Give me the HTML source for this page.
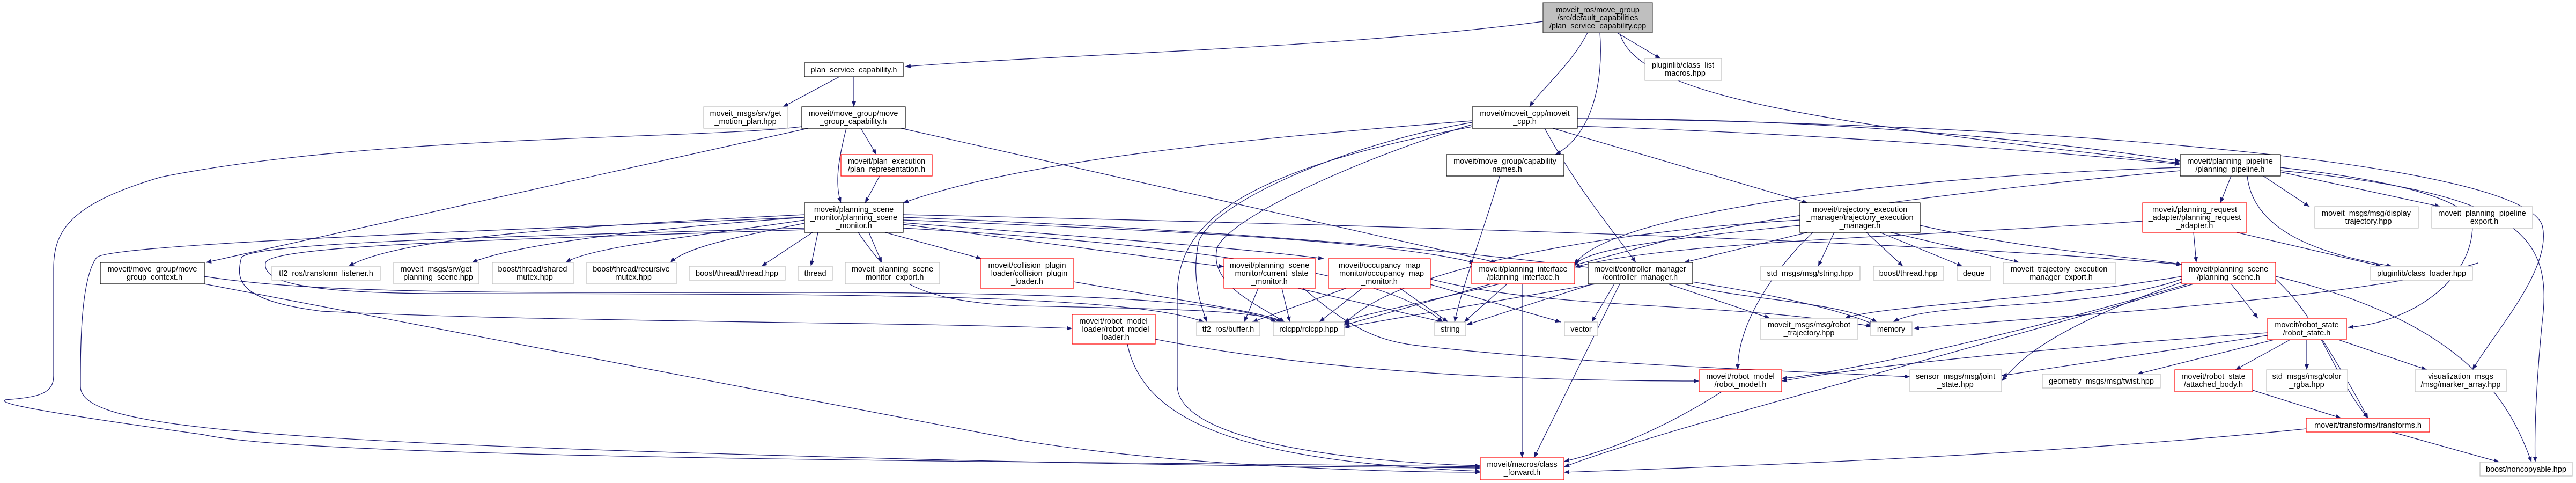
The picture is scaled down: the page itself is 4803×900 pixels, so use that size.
<!DOCTYPE html>
<html><head><meta charset="utf-8"><style>
html,body{margin:0;padding:0;background:#fff;width:4803px;height:900px;overflow:hidden}
svg text{font-family:"Liberation Sans",sans-serif;font-size:14.5px;fill:#000;text-anchor:middle}
.e{fill:none;stroke:#191970;stroke-width:1.2;marker-end:url(#a)}
.nb{fill:#fff;stroke:#000;stroke-width:1.2}
.ng{fill:#fff;stroke:#bfbfbf;stroke-width:1.2}
.nr{fill:#fff;stroke:#ff0000;stroke-width:1.2}
</style></head><body>
<svg width="4803" height="900" viewBox="0 0 4803 900" xmlns="http://www.w3.org/2000/svg">
<defs><marker id="a" markerWidth="10" markerHeight="8" refX="10" refY="4" orient="auto" markerUnits="userSpaceOnUse"><path d="M0,0 L10,4 L0,8 z" fill="#191970"/></marker></defs>
<g>
<path class="e" d="M2877,40 C2500,90 2000,100 1688,124"/>
<path class="e" d="M2960,61 C2930,120 2870,170 2852,199"/>
<path class="e" d="M2983,61 C2990,150 2970,250 2900,288"/>
<path class="e" d="M3015,61 L3096,109"/>
<path class="e" d="M3020,61 C3050,180 3400,230 4065,304"/>
<path class="e" d="M1565,143 L1460,199"/>
<path class="e" d="M1592,143 L1592,199"/>
<path class="e" d="M1578,239 C1565,290 1555,340 1568,378"/>
<path class="e" d="M1605,239 L1634,288"/>
<path class="e" d="M1507,239 L384,489"/>
<path class="e" d="M1495,236 C1300,260 700,250 300,330 C130,380 100,430 100,500 L100,700 C100,735 70,740 10,745 C0,750 20,760 380,810 C600,860 2200,860 2760,870"/>
<path class="e" d="M1680,239 L2790,489"/>
<path class="e" d="M1640,328 L1613,378"/>
<path class="e" d="M1500,400 C1100,420 750,440 650,496"/>
<path class="e" d="M1500,405 C1150,430 950,460 880,489"/>
<path class="e" d="M1500,410 C1300,440 1100,460 1055,489"/>
<path class="e" d="M1505,415 C1380,440 1280,460 1250,489"/>
<path class="e" d="M1515,433 L1420,496"/>
<path class="e" d="M1525,433 L1512,496"/>
<path class="e" d="M1620,433 L1644,489"/>
<path class="e" d="M1650,433 L1830,482"/>
<path class="e" d="M1684,418 L2282,497"/>
<path class="e" d="M1684,415 C2000,440 2300,460 2468,482"/>
<path class="e" d="M1684,410 C2200,430 2600,450 2750,490"/>
<path class="e" d="M1684,400 C2600,420 3600,450 4068,493"/>
<path class="e" d="M1684,425 C2300,460 2600,520 2690,600"/>
<path class="e" d="M1684,405 C2600,440 3300,520 3495,605"/>
<path class="e" d="M1500,425 C1000,440 470,450 450,480 C440,520 440,560 600,580 C1000,600 1700,600 1999,612"/>
<path class="e" d="M1500,428 C1000,445 500,455 495,490 C490,520 540,545 800,547 C1500,548 2100,545 2245,600"/>
<path class="e" d="M1600,433 C1660,520 1700,560 1900,570 C2200,575 2350,580 2390,600"/>
<path class="e" d="M1500,405 C900,430 200,455 180,480 C150,520 150,650 150,720 C150,790 400,820 1500,850 C2200,870 2600,870 2760,872"/>
<path class="e" d="M381,515 C600,550 1000,545 1500,545 C2000,545 2300,560 2380,600"/>
<path class="e" d="M381,529 L1900,820 C2200,870 2600,880 2760,880"/>
<path class="e" d="M2002,525 C2200,560 2350,580 2395,600"/>
<path class="e" d="M2346,537 L2320,600"/>
<path class="e" d="M2390,537 L2405,600"/>
<path class="e" d="M2420,537 L2690,600"/>
<path class="e" d="M2430,537 C2550,640 2600,640 2700,650 C3000,680 3300,690 3561,702"/>
<path class="e" d="M2510,537 L2335,600"/>
<path class="e" d="M2540,537 L2460,600"/>
<path class="e" d="M2610,537 L2700,600"/>
<path class="e" d="M2667,530 L2910,600"/>
<path class="e" d="M2667,520 C2900,580 3200,560 3490,608"/>
<path class="e" d="M2780,529 L2506,606"/>
<path class="e" d="M2810,529 L2730,600"/>
<path class="e" d="M2838,529 L2838,853"/>
<path class="e" d="M2975,529 L2506,610"/>
<path class="e" d="M2970,529 L2735,605"/>
<path class="e" d="M3010,529 L2968,600"/>
<path class="e" d="M3020,529 L2860,853"/>
<path class="e" d="M3110,529 L3300,593"/>
<path class="e" d="M3140,529 C3250,560 3420,560 3500,600"/>
<path class="e" d="M2745,225 C2300,260 1900,300 1684,378"/>
<path class="e" d="M2941,221 C3400,220 3800,260 4065,300"/>
<path class="e" d="M2941,235 C3400,250 3800,280 4065,306"/>
<path class="e" d="M2895,239 L3370,378"/>
<path class="e" d="M2880,239 C2940,350 3000,420 3050,489"/>
<path class="e" d="M2745,228 C2500,270 2260,380 2235,450 C2220,520 2240,570 2250,600"/>
<path class="e" d="M2745,232 C2550,290 2300,400 2270,460 C2250,530 2350,570 2395,600"/>
<path class="e" d="M2745,236 C2300,320 2195,420 2195,550 L2195,720 C2200,820 2500,860 2760,868"/>
<path class="e" d="M2941,221 C3800,230 4700,300 4740,420 C4760,500 4650,620 4610,689"/>
<path class="e" d="M2796,328 C2770,420 2730,520 2712,600"/>
<path class="e" d="M3420,433 L3390,496"/>
<path class="e" d="M3480,433 L3548,496"/>
<path class="e" d="M3505,433 L3659,496"/>
<path class="e" d="M3525,433 L3765,489"/>
<path class="e" d="M3580,420 C3800,470 4000,480 4068,493"/>
<path class="e" d="M3370,433 L3140,489"/>
<path class="e" d="M3356,410 C3000,430 2600,500 2506,605"/>
<path class="e" d="M3380,433 C3310,500 3240,600 3240,689"/>
<path class="e" d="M3356,420 C3050,450 2950,470 2936,495"/>
<path class="e" d="M4068,515 C3800,560 3500,570 3440,593"/>
<path class="e" d="M4068,520 C3900,580 3600,560 3530,600"/>
<path class="e" d="M4160,529 L4210,593"/>
<path class="e" d="M4080,529 C3700,640 3400,700 3322,705"/>
<path class="e" d="M4090,529 C3500,700 3100,800 2916,870"/>
<path class="e" d="M4243,515 C4600,600 4680,750 4720,861"/>
<path class="e" d="M4243,520 C4330,600 4350,700 4415,779"/>
<path class="e" d="M4070,525 C3800,620 3760,680 3732,710"/>
<path class="e" d="M4228,620 C3800,650 3500,680 3322,710"/>
<path class="e" d="M4228,625 C4000,660 3800,690 3732,700"/>
<path class="e" d="M4240,633 L3985,697"/>
<path class="e" d="M4270,633 L4168,689"/>
<path class="e" d="M4301,633 L4301,689"/>
<path class="e" d="M4360,633 L4525,689"/>
<path class="e" d="M4330,633 C4360,680 4395,740 4415,779"/>
<path class="e" d="M4620,490 C4400,560 3800,590 3568,612"/>
<path class="e" d="M4200,727 L4365,779"/>
<path class="e" d="M3210,730 C3100,800 3000,840 2916,860"/>
<path class="e" d="M4460,805 L4660,861"/>
<path class="e" d="M4300,799 C3800,850 3200,870 2916,880"/>
<path class="e" d="M2102,641 C2130,780 2300,860 2760,878"/>
<path class="e" d="M2154,632 C2500,700 2900,710 3168,710"/>
<path class="e" d="M4160,328 L4140,378"/>
<path class="e" d="M4220,328 L4306,385"/>
<path class="e" d="M4250,320 L4550,385"/>
<path class="e" d="M4190,328 C4200,420 4300,470 4460,496"/>
<path class="e" d="M4065,312 C3500,330 3000,400 2936,492"/>
<path class="e" d="M4065,318 C3600,360 3200,420 3100,450 C2700,560 2550,580 2506,600"/>
<path class="e" d="M4252,312 C4500,340 4610,380 4610,420 C4610,520 4500,600 4378,610"/>
<path class="e" d="M4252,318 C4700,360 4760,440 4740,600 C4730,700 4725,800 4727,861"/>
<path class="e" d="M4090,433 L4095,489"/>
<path class="e" d="M4170,433 L4440,496"/>
<path class="e" d="M3995,412 C3600,440 3100,450 2936,498"/>
</g>
<g>
<rect x="2877" y="5" width="204" height="56" fill="#bfbfbf" stroke="#404040" stroke-width="1.2"/>
<text x="2979" y="23">moveit_ros/move_group</text><text x="2979" y="38">/src/default_capabilities</text><text x="2979" y="53">/plan_service_capability.cpp</text>
<rect class="nb" x="1500" y="117" width="184" height="26"/><text x="1592" y="135">plan_service_capability.h</text>
<rect class="ng" x="1312" y="199" width="157" height="40"/><text x="1390" y="216">moveit_msgs/srv/get</text><text x="1390" y="231">_motion_plan.hpp</text>
<rect class="nb" x="1495" y="199" width="193" height="40"/><text x="1591" y="216">moveit/move_group/move</text><text x="1591" y="231">_group_capability.h</text>
<rect class="nr" x="1568" y="288" width="170" height="40"/><text x="1653" y="305">moveit/plan_execution</text><text x="1653" y="320">/plan_representation.h</text>
<rect class="nb" x="1500" y="378" width="184" height="55"/><text x="1592" y="395">moveit/planning_scene</text><text x="1592" y="410">_monitor/planning_scene</text><text x="1592" y="425">_monitor.h</text>
<rect class="nb" x="2745" y="199" width="196" height="40"/><text x="2843" y="216">moveit/moveit_cpp/moveit</text><text x="2843" y="231">_cpp.h</text>
<rect class="nb" x="2697" y="288" width="219" height="40"/><text x="2806" y="305">moveit/move_group/capability</text><text x="2806" y="320">_names.h</text>
<rect class="ng" x="3067" y="109" width="143" height="41"/><text x="3138" y="126">pluginlib/class_list</text><text x="3138" y="141">_macros.hpp</text>
<rect class="nb" x="4065" y="288" width="187" height="40"/><text x="4158" y="305">moveit/planning_pipeline</text><text x="4158" y="320">/planning_pipeline.h</text>
<rect class="nb" x="3356" y="378" width="224" height="55"/><text x="3468" y="395">moveit/trajectory_execution</text><text x="3468" y="410">_manager/trajectory_execution</text><text x="3468" y="425">_manager.h</text>
<rect class="nr" x="3995" y="378" width="194" height="55"/><text x="4092" y="395">moveit/planning_request</text><text x="4092" y="410">_adapter/planning_request</text><text x="4092" y="425">_adapter.h</text>
<rect class="ng" x="4316" y="385" width="193" height="40"/><text x="4412" y="402">moveit_msgs/msg/display</text><text x="4412" y="417">_trajectory.hpp</text>
<rect class="ng" x="4534" y="385" width="188" height="40"/><text x="4628" y="402">moveit_planning_pipeline</text><text x="4628" y="417">_export.h</text>
<rect class="nb" x="187" y="489" width="194" height="40"/><text x="284" y="506">moveit/move_group/move</text><text x="284" y="521">_group_context.h</text>
<rect class="ng" x="507" y="496" width="202" height="26"/><text x="608" y="514">tf2_ros/transform_listener.h</text>
<rect class="ng" x="734" y="489" width="159" height="40"/><text x="813" y="506">moveit_msgs/srv/get</text><text x="813" y="521">_planning_scene.hpp</text>
<rect class="ng" x="918" y="489" width="151" height="40"/><text x="993" y="506">boost/thread/shared</text><text x="993" y="521">_mutex.hpp</text>
<rect class="ng" x="1094" y="489" width="167" height="40"/><text x="1177" y="506">boost/thread/recursive</text><text x="1177" y="521">_mutex.hpp</text>
<rect class="ng" x="1285" y="496" width="179" height="26"/><text x="1374" y="514">boost/thread/thread.hpp</text>
<rect class="ng" x="1488" y="496" width="64" height="26"/><text x="1520" y="514">thread</text>
<rect class="ng" x="1576" y="489" width="176" height="40"/><text x="1664" y="506">moveit_planning_scene</text><text x="1664" y="521">_monitor_export.h</text>
<rect class="nr" x="1828" y="482" width="174" height="55"/><text x="1915" y="499">moveit/collision_plugin</text><text x="1915" y="514">_loader/collision_plugin</text><text x="1915" y="529">_loader.h</text>
<rect class="nr" x="2282" y="482" width="171" height="55"/><text x="2367" y="499">moveit/planning_scene</text><text x="2367" y="514">_monitor/current_state</text><text x="2367" y="529">_monitor.h</text>
<rect class="nr" x="2477" y="482" width="190" height="55"/><text x="2572" y="499">moveit/occupancy_map</text><text x="2572" y="514">_monitor/occupancy_map</text><text x="2572" y="529">_monitor.h</text>
<rect class="nr" x="2744" y="489" width="192" height="40"/><text x="2840" y="506">moveit/planning_interface</text><text x="2840" y="521">/planning_interface.h</text>
<rect class="nb" x="2961" y="489" width="195" height="40"/><text x="3058" y="506">moveit/controller_manager</text><text x="3058" y="521">/controller_manager.h</text>
<rect class="ng" x="3283" y="496" width="185" height="26"/><text x="3375" y="514">std_msgs/msg/string.hpp</text>
<rect class="ng" x="3493" y="496" width="131" height="26"/><text x="3558" y="514">boost/thread.hpp</text>
<rect class="ng" x="3649" y="496" width="63" height="26"/><text x="3680" y="514">deque</text>
<rect class="ng" x="3735" y="489" width="209" height="40"/><text x="3839" y="506">moveit_trajectory_execution</text><text x="3839" y="521">_manager_export.h</text>
<rect class="nr" x="4068" y="489" width="175" height="40"/><text x="4155" y="506">moveit/planning_scene</text><text x="4155" y="521">/planning_scene.h</text>
<rect class="ng" x="4420" y="496" width="190" height="26"/><text x="4515" y="514">pluginlib/class_loader.hpp</text>
<rect class="nr" x="1999" y="586" width="155" height="55"/><text x="2076" y="603">moveit/robot_model</text><text x="2076" y="618">_loader/robot_model</text><text x="2076" y="633">_loader.h</text>
<rect class="ng" x="2231" y="600" width="118" height="26"/><text x="2290" y="618">tf2_ros/buffer.h</text>
<rect class="ng" x="2374" y="600" width="132" height="26"/><text x="2440" y="618">rclcpp/rclcpp.hpp</text>
<rect class="ng" x="2675" y="600" width="58" height="26"/><text x="2704" y="618">string</text>
<rect class="ng" x="2917" y="600" width="62" height="26"/><text x="2948" y="618">vector</text>
<rect class="ng" x="3283" y="593" width="180" height="40"/><text x="3373" y="610">moveit_msgs/msg/robot</text><text x="3373" y="625">_trajectory.hpp</text>
<rect class="ng" x="3488" y="600" width="77" height="26"/><text x="3526" y="618">memory</text>
<rect class="nr" x="4228" y="593" width="147" height="40"/><text x="4301" y="610">moveit/robot_state</text><text x="4301" y="625">/robot_state.h</text>
<rect class="nr" x="3168" y="689" width="154" height="41"/><text x="3245" y="706">moveit/robot_model</text><text x="3245" y="721">/robot_model.h</text>
<rect class="ng" x="3561" y="689" width="171" height="41"/><text x="3646" y="706">sensor_msgs/msg/joint</text><text x="3646" y="721">_state.hpp</text>
<rect class="ng" x="3808" y="697" width="220" height="26"/><text x="3918" y="715">geometry_msgs/msg/twist.hpp</text>
<rect class="nr" x="4055" y="689" width="145" height="41"/><text x="4127" y="706">moveit/robot_state</text><text x="4127" y="721">/attached_body.h</text>
<rect class="ng" x="4226" y="689" width="151" height="41"/><text x="4301" y="706">std_msgs/msg/color</text><text x="4301" y="721">_rgba.hpp</text>
<rect class="ng" x="4503" y="689" width="170" height="41"/><text x="4588" y="706">visualization_msgs</text><text x="4588" y="721">/msg/marker_array.hpp</text>
<rect class="nr" x="4300" y="779" width="230" height="26"/><text x="4415" y="797">moveit/transforms/transforms.h</text>
<rect class="nr" x="2760" y="853" width="156" height="41"/><text x="2838" y="870">moveit/macros/class</text><text x="2838" y="885">_forward.h</text>
<rect class="ng" x="4624" y="861" width="172" height="26"/><text x="4710" y="879">boost/noncopyable.hpp</text>
</g>
</svg>
</body></html>
